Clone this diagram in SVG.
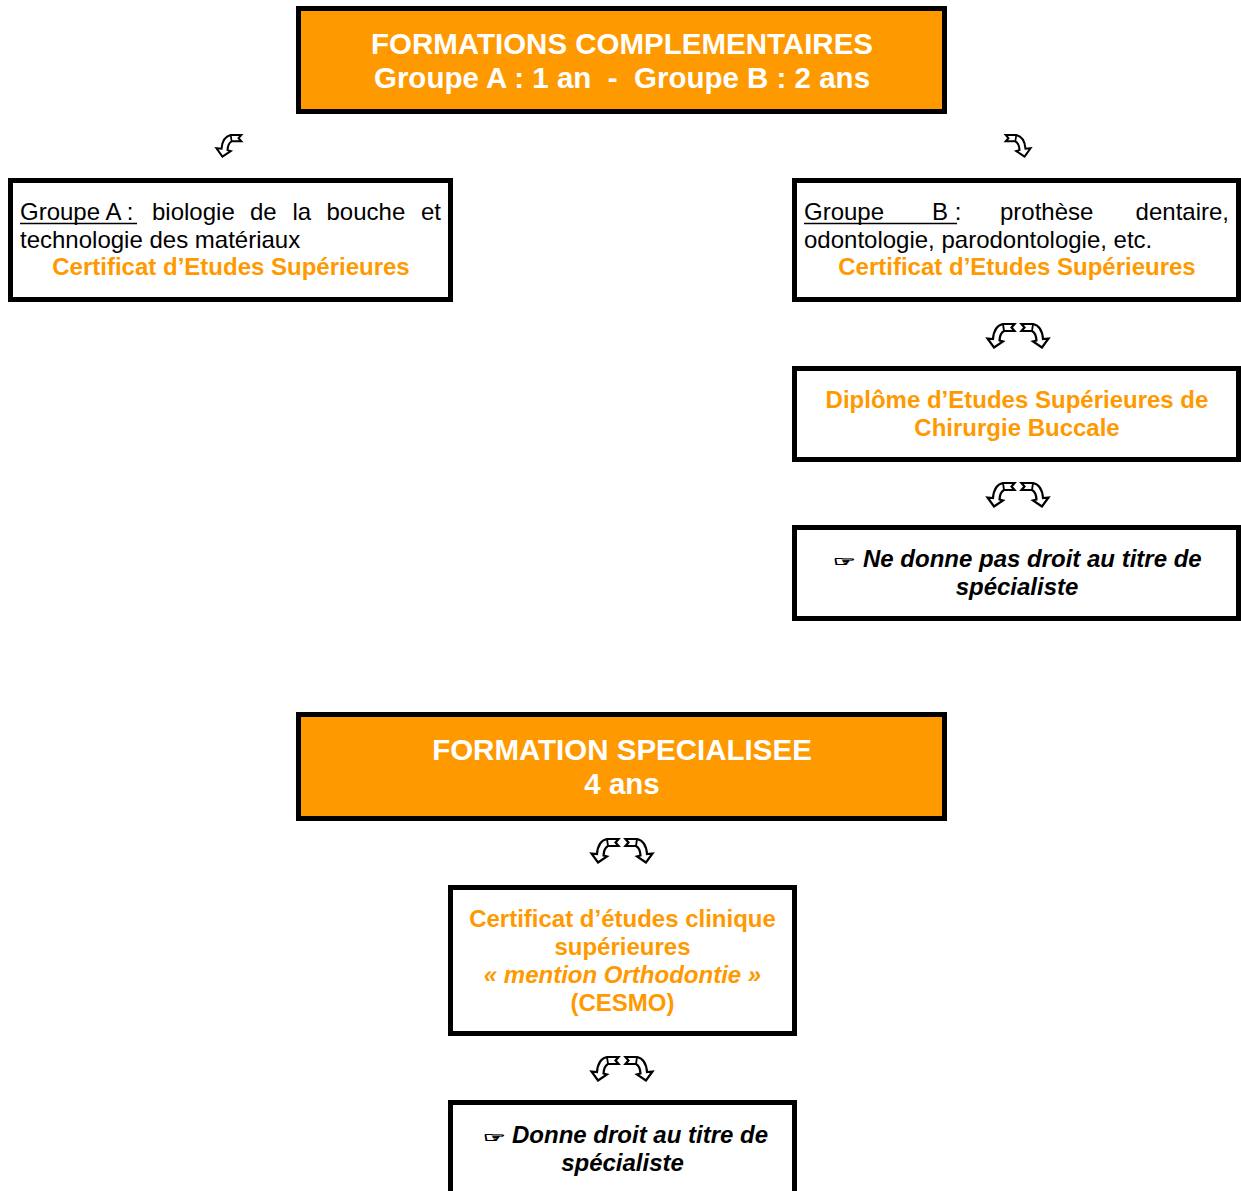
<svg xmlns="http://www.w3.org/2000/svg" xmlns:xlink="http://www.w3.org/1999/xlink" width="1241" height="1191" viewBox="0 0 1241 1191">
<style>
.box{fill:#fff;stroke:#000;stroke-width:5}
.obox{fill:#FF9900;stroke:#000;stroke-width:5}
.hdr{font-family:"Liberation Sans",Arial,sans-serif;font-weight:bold;font-size:29.5px;fill:#fff;text-anchor:middle}
.body{font-family:"Liberation Sans",Arial,sans-serif;font-size:24px;fill:#000}
.org{font-family:"Liberation Sans",Arial,sans-serif;font-weight:bold;font-size:24px;fill:#FF9900;text-anchor:middle}
.note{font-family:"Liberation Sans",Arial,sans-serif;font-weight:bold;font-style:italic;font-size:24px;fill:#000}
.hand{font-family:"DejaVu Sans",sans-serif;font-size:18px;fill:#000;stroke:#000;stroke-width:0.9}
.ul{stroke:#000;stroke-width:1.5}
.end{text-anchor:end}
.mid{text-anchor:middle}
.arr{fill:#fff;stroke:#000;stroke-width:2.2;stroke-linejoin:miter}
</style>
<defs>
<g id="arrL">
<path class="arr" d="M7,24.5 L16,18.5 L12.5,17.5 Q13,10 17,8 L27.5,8 L24.5,4.5 L27.5,1 L16,1 Q7,3 6,16 L0.5,15.5 Z"/>
<path d="M17,8 L16,1" fill="none" stroke="#000" stroke-width="1.8"/>
</g>
</defs>

<g id="connectors">
<use xlink:href="#arrL" transform="translate(216,134) scale(0.92)"/>
<use xlink:href="#arrL" transform="translate(1031,134) scale(-0.92,0.92)"/>
<use xlink:href="#arrL" transform="translate(987,323)"/>
<use xlink:href="#arrL" transform="translate(1049,323) scale(-1,1)"/>
<use xlink:href="#arrL" transform="translate(987,482)"/>
<use xlink:href="#arrL" transform="translate(1049,482) scale(-1,1)"/>
<use xlink:href="#arrL" transform="translate(591,838)"/>
<use xlink:href="#arrL" transform="translate(653,838) scale(-1,1)"/>
<use xlink:href="#arrL" transform="translate(591,1056)"/>
<use xlink:href="#arrL" transform="translate(653,1056) scale(-1,1)"/>
</g>

<g id="formations-complementaires">
<rect class="obox" x="298.5" y="8.5" width="646" height="103"/>
<text class="hdr" x="622" y="54">FORMATIONS COMPLEMENTAIRES</text>
<text class="hdr" x="622" y="88" xml:space="preserve">Groupe A : 1 an  -  Groupe B : 2 ans</text>
</g>

<g id="groupe-a">
<rect class="box" x="10.5" y="180.5" width="440" height="119"/>
<text class="body" x="20" y="220">Groupe A :</text>
<line class="ul" x1="20" y1="223.5" x2="137" y2="223.5"/>
<text class="body" x="152" y="220">biologie</text>
<text class="body" x="250" y="220">de</text>
<text class="body" x="292.5" y="220">la</text>
<text class="body" x="326.5" y="220">bouche</text>
<text class="body end" x="441" y="220">et</text>
<text class="body" x="20" y="248">technologie des matériaux</text>
<text class="org" x="231" y="275">Certificat d’Etudes Supérieures</text>
</g>

<g id="groupe-b">
<rect class="box" x="794.5" y="180.5" width="444" height="119"/>
<text class="body" x="804" y="220">Groupe</text>
<text class="body" x="932" y="220">B :</text>
<line class="ul" x1="804" y1="223.5" x2="957" y2="223.5"/>
<text class="body" x="1000" y="220">prothèse</text>
<text class="body end" x="1229" y="220">dentaire,</text>
<text class="body" x="804" y="248">odontologie, parodontologie, etc.</text>
<text class="org" x="1017" y="275">Certificat d’Etudes Supérieures</text>
</g>

<g id="diplome">
<rect class="box" x="794.5" y="368.5" width="444" height="91"/>
<text class="org" x="1017" y="408">Diplôme d’Etudes Supérieures de</text>
<text class="org" x="1017" y="436">Chirurgie Buccale</text>
</g>

<g id="ne-donne-pas">
<rect class="box" x="794.5" y="527.5" width="444" height="91"/>
<text class="hand" transform="translate(833,566) scale(1.4,0.75)">☞</text>
<text class="note" x="863" y="567">Ne donne pas droit au titre de</text>
<text class="note mid" x="1017" y="595">spécialiste</text>
</g>

<g id="formation-specialisee">
<rect class="obox" x="298.5" y="714.5" width="646" height="104"/>
<text class="hdr" x="622" y="760">FORMATION SPECIALISEE</text>
<text class="hdr" x="622" y="794">4 ans</text>
</g>

<g id="cesmo">
<rect class="box" x="450.5" y="887.5" width="344" height="146"/>
<text class="org" x="622.5" y="927">Certificat d’études clinique</text>
<text class="org" x="622.5" y="955">supérieures</text>
<text class="org" x="622.5" y="983" font-style="italic">« mention Orthodontie »</text>
<text class="org" x="622.5" y="1011">(CESMO)</text>
</g>

<g id="donne-droit">
<rect class="box" x="450.5" y="1102.5" width="344" height="110"/>
<text class="hand" transform="translate(483,1142) scale(1.4,0.75)">☞</text>
<text class="note" x="512" y="1143">Donne droit au titre de</text>
<text class="note mid" x="622.5" y="1171">spécialiste</text>
</g>
</svg>
